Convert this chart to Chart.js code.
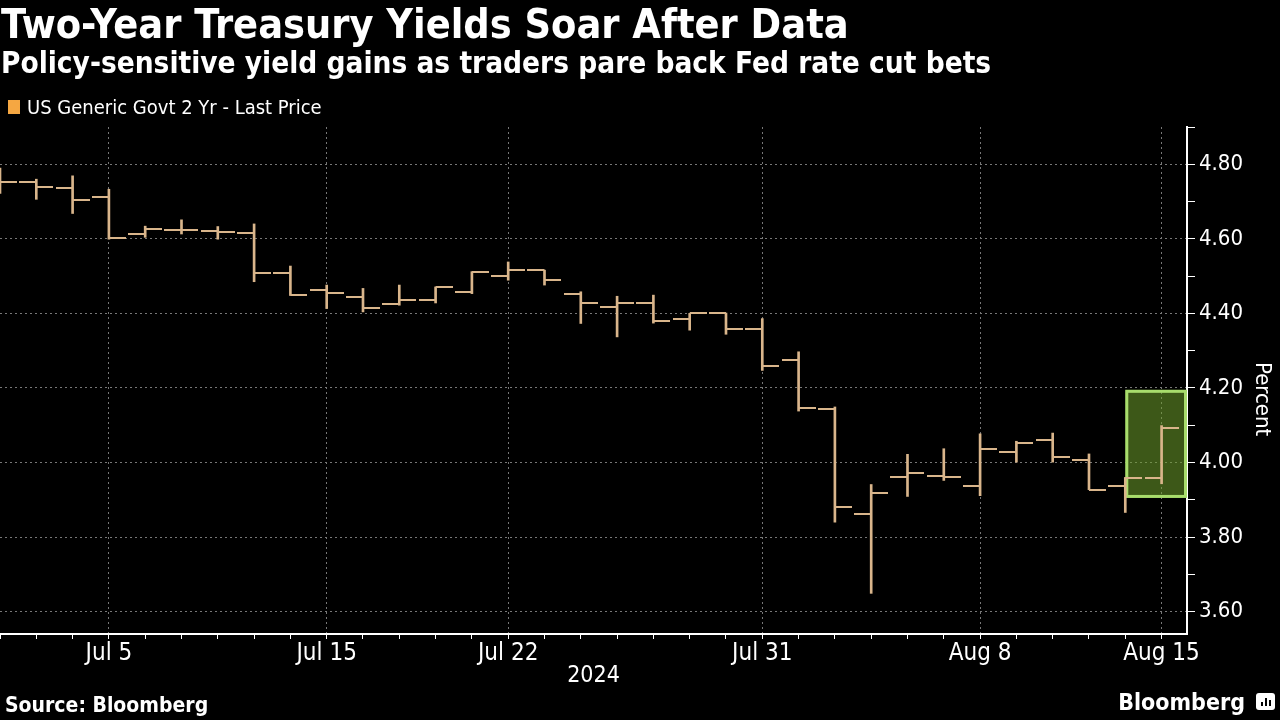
<!DOCTYPE html>
<html>
<head>
<meta charset="utf-8">
<script src="https://cdn.jsdelivr.net/npm/chart.js@4.4.1/dist/chart.umd.min.js"></script>
<style>
  html, body { margin: 0; padding: 0; background: #000; }
  #wrap { position: relative; width: 1280px; height: 720px; overflow: hidden; background: #000; color: #fff; font-family: "DejaVu Sans Condensed", "DejaVu Sans", sans-serif; }
  #chart { position: absolute; left: 0; top: 0; }
  .txt { position: absolute; white-space: nowrap; line-height: 1; }
  #title { left: 1px; top: 4px; font-size: 41px; font-weight: bold; }
  #subtitle { left: 1px; top: 49px; font-size: 29.5px; font-weight: bold; }
  #legend { left: 27px; top: 97px; font-size: 20px; }
  #legendBox { position: absolute; left: 8px; top: 100px; width: 12px; height: 14px; background: #f5a742; }
  #source { left: 5px; top: 695px; font-size: 21px; font-weight: bold; }
  #brand { right: 35px; top: 691px; font-size: 23px; font-weight: bold; }
  #percent { left: 1252px; top: 362px; font-size: 22px; writing-mode: vertical-rl; }
  #logo { position: absolute; left: 1256px; top: 693px; width: 19px; height: 17px; background: #fff; border-radius: 3px; }
  #logo i { position: absolute; bottom: 4px; width: 2px; background: #000; }
</style>
</head>
<body>
<div id="wrap">
  <canvas id="chart" width="1280" height="720"></canvas>
  <div class="txt" id="title">Two-Year Treasury Yields Soar After Data</div>
  <div class="txt" id="subtitle">Policy-sensitive yield gains as traders pare back Fed rate cut bets</div>
  <div id="legendBox"></div>
  <div class="txt" id="legend">US Generic Govt 2 Yr - Last Price</div>
  <div class="txt" id="percent">Percent</div>
  <div class="txt" id="source">Source: Bloomberg</div>
  <div class="txt" id="brand">Bloomberg</div>
  <div id="logo"><i style="left:5px;height:4px"></i><i style="left:9px;height:8px"></i><i style="left:13px;height:6px"></i></div>
</div>
<script>
// Trading days, Jul 1 - Aug 15 2024
const dates = ['Jul 1', 'Jul 2', 'Jul 3', 'Jul 5', 'Jul 8', 'Jul 9', 'Jul 10', 'Jul 11', 'Jul 12',
  'Jul 15', 'Jul 16', 'Jul 17', 'Jul 18', 'Jul 19', 'Jul 22', 'Jul 23', 'Jul 24', 'Jul 25', 'Jul 26',
  'Jul 29', 'Jul 30', 'Jul 31', 'Aug 1', 'Aug 2', 'Aug 5', 'Aug 6', 'Aug 7', 'Aug 8', 'Aug 9',
  'Aug 12', 'Aug 13', 'Aug 14', 'Aug 15'];

const opens  = [4.770, 4.753, 4.737, 4.711, 4.613, 4.624, 4.622, 4.616, 4.509, 4.464, 4.444,
  4.424, 4.435, 4.458, 4.501, 4.516, 4.453, 4.417, 4.427, 4.384, 4.401, 4.358, 4.274, 4.144,
  3.862, 3.961, 3.965, 3.936, 4.028, 4.060, 4.007, 3.936, 3.958];
const highs  = [4.790, 4.760, 4.769, 4.733, 4.634, 4.651, 4.633, 4.640, 4.527, 4.476, 4.467,
  4.476, 4.471, 4.512, 4.538, 4.516, 4.458, 4.446, 4.449, 4.400, 4.401, 4.386, 4.297, 4.149,
  3.941, 4.022, 4.037, 4.077, 4.057, 4.079, 4.023, 3.960, 4.099];
const lows   = [4.722, 4.706, 4.668, 4.599, 4.604, 4.613, 4.599, 4.485, 4.448, 4.413, 4.404,
  4.422, 4.428, 4.453, 4.489, 4.476, 4.373, 4.337, 4.374, 4.355, 4.344, 4.247, 4.138, 3.840,
  3.649, 3.909, 3.952, 3.911, 4.001, 4.001, 3.927, 3.866, 3.943];
const closes = [4.753, 4.740, 4.704, 4.601, 4.626, 4.624, 4.619, 4.509, 4.449, 4.455, 4.415,
  4.435, 4.470, 4.510, 4.516, 4.489, 4.429, 4.429, 4.380, 4.400, 4.358, 4.258, 4.146, 3.880,
  3.919, 3.973, 3.962, 4.037, 4.052, 4.016, 3.927, 3.958, 4.092];

// labelled dates on the x axis
const xLabelDates = ['Jul 5', 'Jul 15', 'Jul 22', 'Jul 31', 'Aug 8', 'Aug 15'];
// y ticks: labels every 0.2, minor marks every 0.1
const yTickValues = [3.6, 3.7, 3.8, 3.9, 4.0, 4.1, 4.2, 4.3, 4.4, 4.5, 4.6, 4.7, 4.8, 4.9];
const yLabelValues = [3.6, 3.8, 4.0, 4.2, 4.4, 4.6, 4.8];

// highlighted region (last two sessions)
const highlightFrom = 'Aug 14';
const highlightRange = [3.905, 4.195];

const BAR_COLOR = '#d9b58b';
const FONT_FAMILY = '"DejaVu Sans Condensed", "DejaVu Sans", sans-serif';

function makeTick(side) {
    const c = document.createElement('canvas');
    c.width = 34;
    c.height = 2;
    const g = c.getContext('2d');
    g.fillStyle = BAR_COLOR;
    if (side === 'left') g.fillRect(0, 0, 17, 2);
    else g.fillRect(17, 0, 17, 2);
    return c;
}

const rangeData = dates.map((d, i) => ({ x: i, y: [lows[i], highs[i]] }));
const openData = dates.map((d, i) => ({ x: i, y: opens[i] }));
const closeData = dates.map((d, i) => ({ x: i, y: closes[i] }));

const isLabelled = (v) => xLabelDates.includes(dates[v]);
const isYLabel = (v) => yLabelValues.some(y => Math.abs(y - v) < 1e-6);

const highlightPlugin = {
    id: 'highlight',
    beforeDatasetsDraw(chart) {
        const { ctx, chartArea, scales } = chart;
        const x0 = scales.x.getPixelForValue(dates.indexOf(highlightFrom));
        const x1 = chartArea.right;
        const y0 = scales.y.getPixelForValue(highlightRange[1]);
        const y1 = scales.y.getPixelForValue(highlightRange[0]);
        ctx.save();
        ctx.fillStyle = 'rgba(112, 160, 44, 0.55)';
        ctx.fillRect(x0, y0, x1 - x0, y1 - y0);
        ctx.strokeStyle = '#a8dc6c';
        ctx.lineWidth = 3;
        ctx.strokeRect(x0 + 1.5, y0 + 1.5, x1 - x0 - 3, y1 - y0 - 3);
        ctx.restore();
    }
};

new Chart(document.getElementById('chart'), {
    type: 'bar',
    data: {
        datasets: [
            {
                label: 'range',
                data: rangeData,
                backgroundColor: BAR_COLOR,
                borderWidth: 0,
                borderSkipped: false,
                barThickness: 2,
                order: 2
            },
            {
                type: 'scatter',
                label: 'open',
                data: openData,
                pointStyle: makeTick('left'),
                pointRadius: 17,
                order: 1
            },
            {
                type: 'scatter',
                label: 'close',
                data: closeData,
                pointStyle: makeTick('right'),
                pointRadius: 17,
                order: 1
            }
        ]
    },
    options: {
        responsive: false,
        animation: false,
        events: [],
        layout: { autoPadding: false, padding: { top: 127, left: 0, right: 0, bottom: 30 } },
        plugins: {
            legend: { display: false },
            tooltip: { enabled: false }
        },
        scales: {
            x: {
                type: 'linear',
                offset: false,
                min: 0,
                max: 32.7,
                afterBuildTicks: (s) => { s.ticks = dates.map((d, i) => ({ value: i })); },
                afterFit: (s) => { s.height = 56; },
                border: { color: '#fff', width: 2, dash: [2, 3] },
                grid: {
                    offset: false,
                    color: (c) => (c.tick && isLabelled(c.tick.value)) ? '#777' : 'rgba(0,0,0,0)',
                    tickColor: '#fff',
                    tickLength: 5,
                    lineWidth: 1
                },
                ticks: {
                    color: '#fff',
                    font: { family: FONT_FAMILY, size: 24 },
                    padding: 0,
                    maxRotation: 0,
                    autoSkip: false,
                    callback: (v) => isLabelled(v) ? dates[v] : ''
                },
                title: {
                    display: true,
                    text: '2024',
                    color: '#fff',
                    font: { family: FONT_FAMILY, size: 23 },
                    padding: { top: 0, bottom: 0 }
                }
            },
            y: {
                position: 'right',
                min: 3.54,
                max: 4.9,
                afterBuildTicks: (s) => { s.ticks = yTickValues.map(v => ({ value: v })); },
                afterFit: (s) => { s.width = 93; },
                border: { color: '#fff', width: 2, dash: [2, 3] },
                grid: {
                    color: (c) => (c.tick && isYLabel(c.tick.value)) ? '#777' : 'rgba(0,0,0,0)',
                    tickColor: '#fff',
                    tickLength: 8,
                    lineWidth: 1
                },
                ticks: {
                    color: '#fff',
                    font: { family: FONT_FAMILY, size: 22 },
                    padding: 4,
                    autoSkip: false,
                    callback: (v) => isYLabel(v) ? v.toFixed(2) : ''
                }
            }
        }
    },
    plugins: [highlightPlugin]
});
</script>
</body>
</html>
